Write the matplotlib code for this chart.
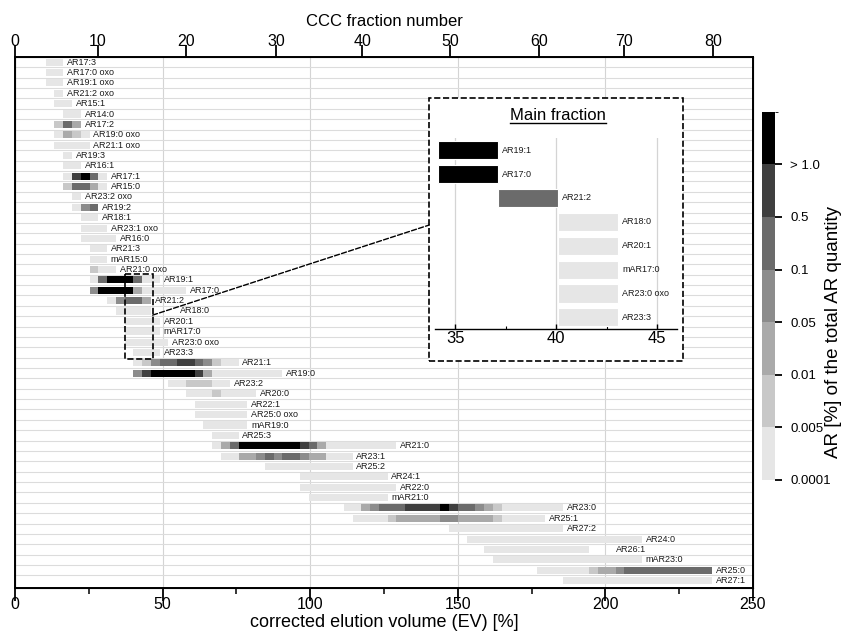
import numpy as np
import matplotlib
matplotlib.use('Agg')
import matplotlib.pyplot as plt
from matplotlib.colors import ListedColormap, BoundaryNorm
from matplotlib.cm import ScalarMappable
from matplotlib.patches import Rectangle, ConnectionPatch

plt.rcParams['font.family'] = ['Liberation Sans', 'DejaVu Sans']

# =============================================================================
# DATA
# =============================================================================

frac_w = 2.97  # EV [%] per CCC fraction

names = ['AR17:3', 'AR17:0 oxo', 'AR19:1 oxo', 'AR21:2 oxo', 'AR15:1', 'AR14:0',
         'AR17:2', 'AR19:0 oxo', 'AR21:1 oxo', 'AR19:3', 'AR16:1', 'AR17:1',
         'AR15:0', 'AR23:2 oxo', 'AR19:2', 'AR18:1', 'AR23:1 oxo', 'AR16:0',
         'AR21:3', 'mAR15:0', 'AR21:0 oxo', 'AR19:1', 'AR17:0', 'AR21:2',
         'AR18:0', 'AR20:1', 'mAR17:0', 'AR23:0 oxo', 'AR23:3', 'AR21:1',
         'AR19:0', 'AR23:2', 'AR20:0', 'AR22:1', 'AR25:0 oxo', 'mAR19:0',
         'AR25:3', 'AR21:0', 'AR23:1', 'AR25:2', 'AR24:1', 'AR22:0', 'mAR21:0',
         'AR23:0', 'AR25:1', 'AR27:2', 'AR24:0', 'AR26:1', 'mAR23:0', 'AR25:0',
         'AR27:1']

# first fraction in which each AR is found
first_frac = [4, 4, 4, 5, 5, 6, 5, 5, 5, 6, 6, 6, 6, 7, 7, 8, 8, 8, 9, 9, 9,
              9, 9, 11, 12, 13, 13, 13, 14, 14, 14, 18, 20, 21, 21, 22, 23, 23,
              24, 29, 33, 33, 34, 38, 39, 50, 52, 54, 55, 60, 63]

# quantity class per fraction (0: 0.0001-0.005 ... 6: > 1.0)
levels = [
    [0, 0], [0, 0], [0, 0], [0], [0, 0], [0, 0],
    [1, 4, 2], [0, 2, 1, 0], [0, 0, 0, 0], [0], [0, 0],
    [0, 5, 6, 4, 0], [1, 4, 4, 2, 0], [0], [0, 3, 4], [0, 0], [0, 0, 0],
    [0, 0, 0, 0], [0, 0], [0, 0], [1, 0, 0],
    [0, 4, 6, 6, 6, 4, 0, 0],
    [3, 6, 6, 6, 6, 2, 0, 0, 0, 0, 0],
    [0, 3, 4, 4, 2],
    [0, 0, 0, 0], [0, 0, 0, 0], [0, 0, 0, 0], [0, 0, 0, 0, 0], [0, 0, 0],
    [0, 1, 3, 4, 4, 5, 5, 4, 3, 1, 0, 0],
    [3, 5, 6, 6, 6, 6, 6, 5, 2, 0, 0, 0, 0, 0, 0, 0, 0],
    [0, 0, 1, 1, 1, 0, 0],
    [0, 0, 0, 1, 0, 0, 0, 0],
    [0] * 6, [0] * 6, [0] * 5, [0] * 3,
    [0, 2, 4, 6, 6, 6, 6, 6, 6, 6, 5, 4, 2, 0, 0, 0, 0, 0, 0, 0, 0],
    [0, 0, 2, 2, 3, 4, 3, 4, 4, 3, 2, 2, 0, 0, 0],
    [0] * 10, [0] * 10, [0] * 11, [0] * 9,
    [0, 0, 2, 3, 4, 4, 4, 5, 5, 5, 5, 6, 5, 4, 4, 3, 2, 1, 0, 0, 0, 0, 0, 0, 0],
    [0, 0, 0, 0, 1, 2, 2, 2, 2, 2, 3, 3, 2, 2, 2, 2, 1, 0, 0, 0, 0, 0],
    [0] * 13, [0] * 20, [0] * 12, [0] * 17,
    [0, 0, 0, 0, 0, 0, 1, 2, 2, 3, 4, 4, 4, 4, 4, 4, 4, 4, 4, 4],
    [0] * 17,
]

class_labels = ['0.0001', '0.005', '0.01', '0.05', '0.1', '0.5', '> 1.0']
greys = ['#e6e6e6', '#c8c8c8', '#aaaaaa', '#8c8c8c', '#6b6b6b', '#3f3f3f', '#000000']

# top axis: CCC fraction number vs EV
frac_ticks = [0, 10, 20, 30, 40, 50, 60, 70, 80]
frac_tick_ev = [0, 28.0, 57.9, 88.4, 117.6, 147.4, 177.6, 206.3, 236.5]

# main fraction inset
main_names = ['AR19:1', 'AR17:0', 'AR21:2', 'AR18:0', 'AR20:1', 'mAR17:0',
              'AR23:0 oxo', 'AR23:3']
main_frac = [12, 12, 13, 14, 14, 14, 14, 14]
main_level = [6, 6, 4, 0, 0, 0, 0, 0]

# labels moved a bit to the right in the original
label_shift = {'AR18:0': 8.5, 'AR26:1': 7.8}

# =============================================================================
# PLOT
# =============================================================================

W, H = 843, 636
fig = plt.figure(figsize=(W / 100, H / 100), dpi=100)

def fx(px):
    return px / W

def fy(py):
    return 1 - py / H

ax = fig.add_axes([fx(15), fy(588.3), fx(753) - fx(15), fy(57) - fy(588.3)])
n_rows = len(names)

for i, (k0, lv) in enumerate(zip(first_frac, levels)):
    # merge runs of equal class
    j = 0
    while j < len(lv):
        n = 1
        while j + n < len(lv) and lv[j + n] == lv[j]:
            n += 1
        ax.barh(i, n * frac_w, left=(k0 + j - 0.5) * frac_w, height=0.68,
                color=greys[lv[j]], lw=0, zorder=2)
        j += n
    x_end = (k0 + len(lv) - 0.5) * frac_w
    ax.text(x_end + 1.3 + label_shift.get(names[i], 0), i, names[i],
            fontsize=6.5, va='center', ha='left', color='#1a1a1a', zorder=3)

ax.set_xlim(0, 250)
ax.set_ylim(n_rows - 0.25, -0.5)
ax.set_xticks(np.arange(0, 251, 50))
ax.set_xticks(np.arange(25, 250, 50), minor=True)
ax.set_yticks([])
ax.set_yticks(np.arange(0.5, n_rows - 1, 1), minor=True)
ax.grid(axis='x', which='major', color='#d4d4d4', lw=0.8, zorder=0)
ax.grid(axis='y', which='minor', color='#dcdcdc', lw=0.8, zorder=0)
ax.set_axisbelow(True)
ax.tick_params(axis='y', which='both', left=False, labelleft=False)
ax.tick_params(axis='x', which='major', direction='out', length=9, width=1.3,
               labelsize=11.5, pad=-3)
ax.tick_params(axis='x', which='minor', direction='out', length=4.5, width=1.1)
ax.set_xlabel('corrected elution volume (EV) [%]', fontsize=13, labelpad=2)
for s in ax.spines.values():
    s.set_linewidth(1.4)

ax_top = ax.twiny()
ax_top.set_xlim(ax.get_xlim())
ax_top.set_xticks(frac_tick_ev)
ax_top.set_xticklabels([str(f) for f in frac_ticks])
ax_top.tick_params(axis='x', direction='out', length=9, width=1.3,
                   labelsize=11.5, pad=-3.5)
ax_top.set_xlabel('CCC fraction number', fontsize=12, labelpad=6)

# dashed box around the main fraction
ax.add_patch(Rectangle((37.3, 20.45), 46.6 - 37.3, 28.6 - 20.45, fill=False,
                       ls='--', lw=1.2, ec='k', zorder=5))

# inset frame
fig.add_artist(Rectangle((fx(429.3), fy(361)), fx(683.3) - fx(429.3),
                         fy(98.3) - fy(361), transform=fig.transFigure,
                         fc='white', ec='k', ls='--', lw=1.2, zorder=2))

con = ConnectionPatch(xyA=(46.6, 24.4), coordsA=ax.transData,
                      xyB=(fx(429.3), fy(225)), coordsB=fig.transFigure,
                      ls='--', lw=1.0, color='k', zorder=5)
fig.add_artist(con)

axi = fig.add_axes([fx(435), fy(329.3), fx(677.3) - fx(435), fy(138.3) - fy(329.3)])
axi.set_zorder(3)
axi.patch.set_alpha(0)
for j, (nm, k, lv) in enumerate(zip(main_names, main_frac, main_level)):
    axi.barh(j, frac_w, left=(k - 0.5) * frac_w, height=0.76, color=greys[lv],
             ec='white', lw=0.8, zorder=2)
    axi.text((k + 0.5) * frac_w + 0.21, j, nm, fontsize=6.5, va='center',
             ha='left', color='#1a1a1a')
axi.set_xlim(34, 46)
axi.set_ylim(7.5, -0.5)
axi.set_xticks([35, 40, 45])
axi.set_xticks([37.5, 42.5], minor=True)
axi.set_yticks([])
axi.grid(axis='x', which='major', color='#d4d4d4', lw=0.9, zorder=0)
axi.set_axisbelow(True)
for side in ['left', 'right', 'top']:
    axi.spines[side].set_visible(False)
axi.spines['bottom'].set_linewidth(1.0)
axi.tick_params(axis='x', which='major', direction='in', length=3.5, width=1.0,
                labelsize=12, pad=1)
axi.tick_params(axis='x', which='minor', direction='in', length=2, width=0.8)

title = fig.text(fx(557.7), fy(116), 'Main fraction', fontsize=12,
                 ha='center', va='center')
fig.canvas.draw()
bb = title.get_window_extent().transformed(fig.transFigure.inverted())
fig.add_artist(plt.Line2D([bb.x0, bb.x1], [bb.y0 + 0.001, bb.y0 + 0.001],
                          transform=fig.transFigure, color='k', lw=1.0,
                          zorder=4))

# colour bar
cax = fig.add_axes([fx(762), fy(480), fx(775) - fx(762), fy(111.7) - fy(480)])
cmap = ListedColormap(greys)
norm = BoundaryNorm(np.arange(len(greys) + 1), cmap.N)
cb = fig.colorbar(ScalarMappable(norm=norm, cmap=cmap), cax=cax,
                  ticks=np.arange(len(greys)))
cb.ax.set_yticklabels(class_labels)
cb.outline.set_visible(False)
cb.ax.tick_params(length=5, width=1.3, labelsize=9.5, pad=6)
cb.set_label('AR [%] of the total AR quantity', fontsize=13.5)
cb.ax.yaxis.set_label_coords((825 - 762) / 13, (480 - 332) / 368.3)

plt.savefig('out.png', dpi=100)
